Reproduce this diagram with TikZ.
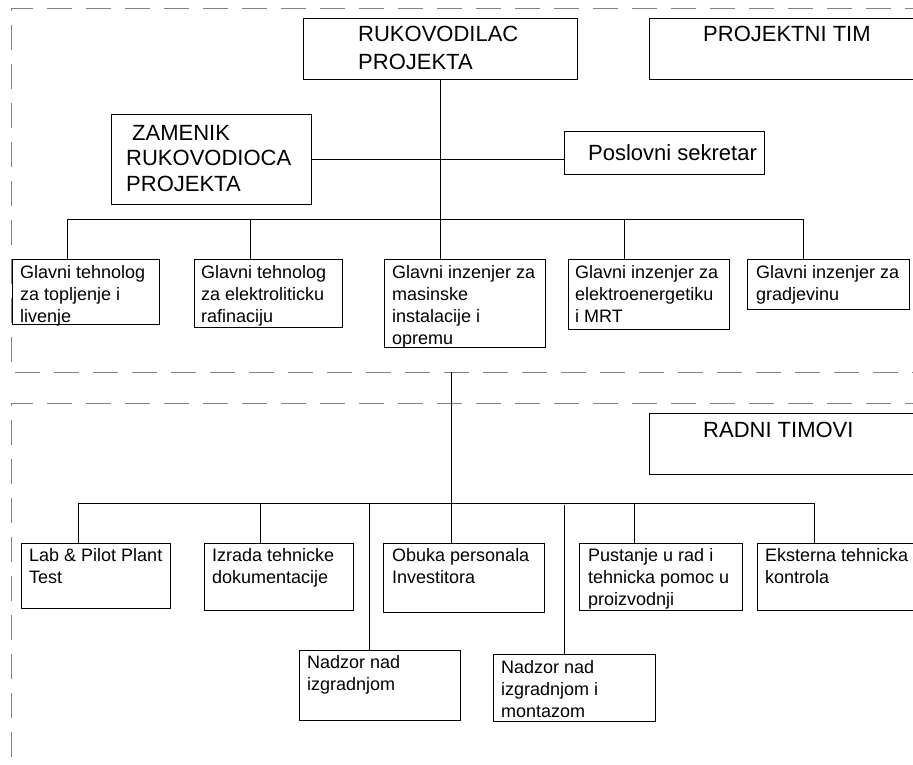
\documentclass[tikz,border=0pt]{standalone}
\usepackage{fontspec}
\setmainfont{Liberation Sans}
\newcommand\mlines[1]{\vtop{\halign{##\hfil\cr#1\crcr}}}
\begin{document}
\begin{tikzpicture}[x=1pt,y=-1pt,
  box/.style={draw=black, line width=0.8pt, inner sep=0pt, anchor=north west},
  txt/.style={inner sep=0pt, anchor=base west, font=\fontsize{18}{22}\selectfont},
  big/.style={inner sep=0pt, anchor=base west, font=\fontsize{22}{28}\selectfont},
  bigz/.style={inner sep=0pt, anchor=base west, font=\fontsize{22}{25.5}\selectfont},
  conn/.style={draw=black, line width=0.8pt},
  frame/.style={draw=gray, dash pattern=on 25pt off 14pt, line width=0.9pt}]
\useasboundingbox (0,0) rectangle (913,764);
% dashed frames
\draw[frame] (930,8) -- (11,8) -- (11,372) -- (930,372);
\draw[frame] (930,403) -- (11,403) -- (11,780);
% top section boxes
\node[box, minimum width=274pt, minimum height=61pt] (ruk) at (303,18) {};
\node[big] (rukt) at (358,41) {\mlines{RUKOVODILAC\cr PROJEKTA}};
\node[box, minimum width=280pt, minimum height=61pt] (ptim) at (649,18) {};
\node[big] (ptimt) at (703,41) {PROJEKTNI TIM};
\node[box, minimum width=200pt, minimum height=90pt] (zam) at (111,114) {};
\node[bigz] (zamt) at (126,140) {\mlines{\hskip6pt ZAMENIK\cr RUKOVODIOCA\cr PROJEKTA}};
\node[box, minimum width=200pt, minimum height=43pt] (pos) at (564,131) {};
\node[big] (post) at (588,160) {Poslovni sekretar};
\node[box, minimum width=147pt, minimum height=65pt] (t1) at (12,259) {};
\node[txt] (t1t) at (20,278) {\mlines{Glavni tehnolog\cr za topljenje i\cr livenje}};
\node[box, minimum width=148pt, minimum height=68pt] (t2) at (194,259) {};
\node[txt] (t2t) at (201,278) {\mlines{Glavni tehnolog\cr za elektroliticku\cr rafinaciju}};
\node[box, minimum width=161pt, minimum height=88pt] (t3) at (384,259) {};
\node[txt] (t3t) at (392,278) {\mlines{Glavni inzenjer za\cr masinske\cr instalacije i\cr opremu}};
\node[box, minimum width=161pt, minimum height=70pt] (t4) at (568,259) {};
\node[txt] (t4t) at (575,278) {\mlines{Glavni inzenjer za\cr elektroenergetiku\cr i MRT}};
\node[box, minimum width=162pt, minimum height=50pt] (t5) at (747,259) {};
\node[txt] (t5t) at (756,278) {\mlines{Glavni inzenjer za\cr gradjevinu}};
% bottom section boxes
\node[box, minimum width=280pt, minimum height=61pt] (radni) at (649,413) {};
\node[big] (radnit) at (703,437) {RADNI TIMOVI};
\node[box, minimum width=149pt, minimum height=65pt] (b1) at (21,543) {};
\node[txt] (b1t) at (29,561) {\mlines{Lab \& Pilot Plant\cr Test}};
\node[box, minimum width=149pt, minimum height=67pt] (b2) at (204,543) {};
\node[txt] (b2t) at (212,561) {\mlines{Izrada tehnicke\cr dokumentacije}};
\node[box, minimum width=161pt, minimum height=69pt] (b3) at (383,543) {};
\node[txt] (b3t) at (392,561) {\mlines{Obuka personala\cr Investitora}};
\node[box, minimum width=163pt, minimum height=67pt] (b4) at (579,543) {};
\node[txt] (b4t) at (588,561) {\mlines{Pustanje u rad i\cr tehnicka pomoc u\cr proizvodnji}};
\node[box, minimum width=170pt, minimum height=67pt] (b5) at (757,543) {};
\node[txt] (b5t) at (765,561) {\mlines{Eksterna tehnicka\cr kontrola}};
\node[box, minimum width=161pt, minimum height=70pt] (n1) at (299,650) {};
\node[txt] (n1t) at (307,668) {\mlines{Nadzor nad\cr izgradnjom}};
\node[box, minimum width=162pt, minimum height=67pt] (n2) at (493,654) {};
\node[txt] (n2t) at (501,673) {\mlines{Nadzor nad\cr izgradnjom i\cr montazom}};
% top connectors
\draw[conn] (ruk.south) -- (ruk.south |- t3.north);
\draw[conn] (zam.east) -- (zam.east -| pos.west);
\coordinate (ba) at (67,219);
\coordinate (bb) at (803,219);
\coordinate (d2) at (250,219);
\coordinate (d4) at (624,219);
\draw[conn] (ba) -- (bb);
\draw[conn] (ba) -- (ba |- t1.north);
\draw[conn] (d2) -- (d2 |- t2.north);
\draw[conn] (d4) -- (d4 |- t4.north);
\draw[conn] (bb) -- (bb |- t5.north);
% link between sections
\coordinate (lk) at (451,372);
\draw[conn] (lk) -- (lk |- b3.north);
% bottom connectors
\coordinate (ca) at (78,503);
\coordinate (cb) at (814,503);
\coordinate (e2) at (260,503);
\coordinate (e3) at (369,503);
\coordinate (e4) at (634,503);
\coordinate (e5) at (564,505);
\draw[conn] (ca) -- (cb);
\draw[conn] (ca) -- (ca |- b1.north);
\draw[conn] (e2) -- (e2 |- b2.north);
\draw[conn] (e3) -- (e3 |- n1.north);
\draw[conn] (e4) -- (e4 |- b4.north);
\draw[conn] (cb) -- (cb |- b5.north);
\draw[conn] (e5) -- (e5 |- n2.north);
\end{tikzpicture}
\end{document}
